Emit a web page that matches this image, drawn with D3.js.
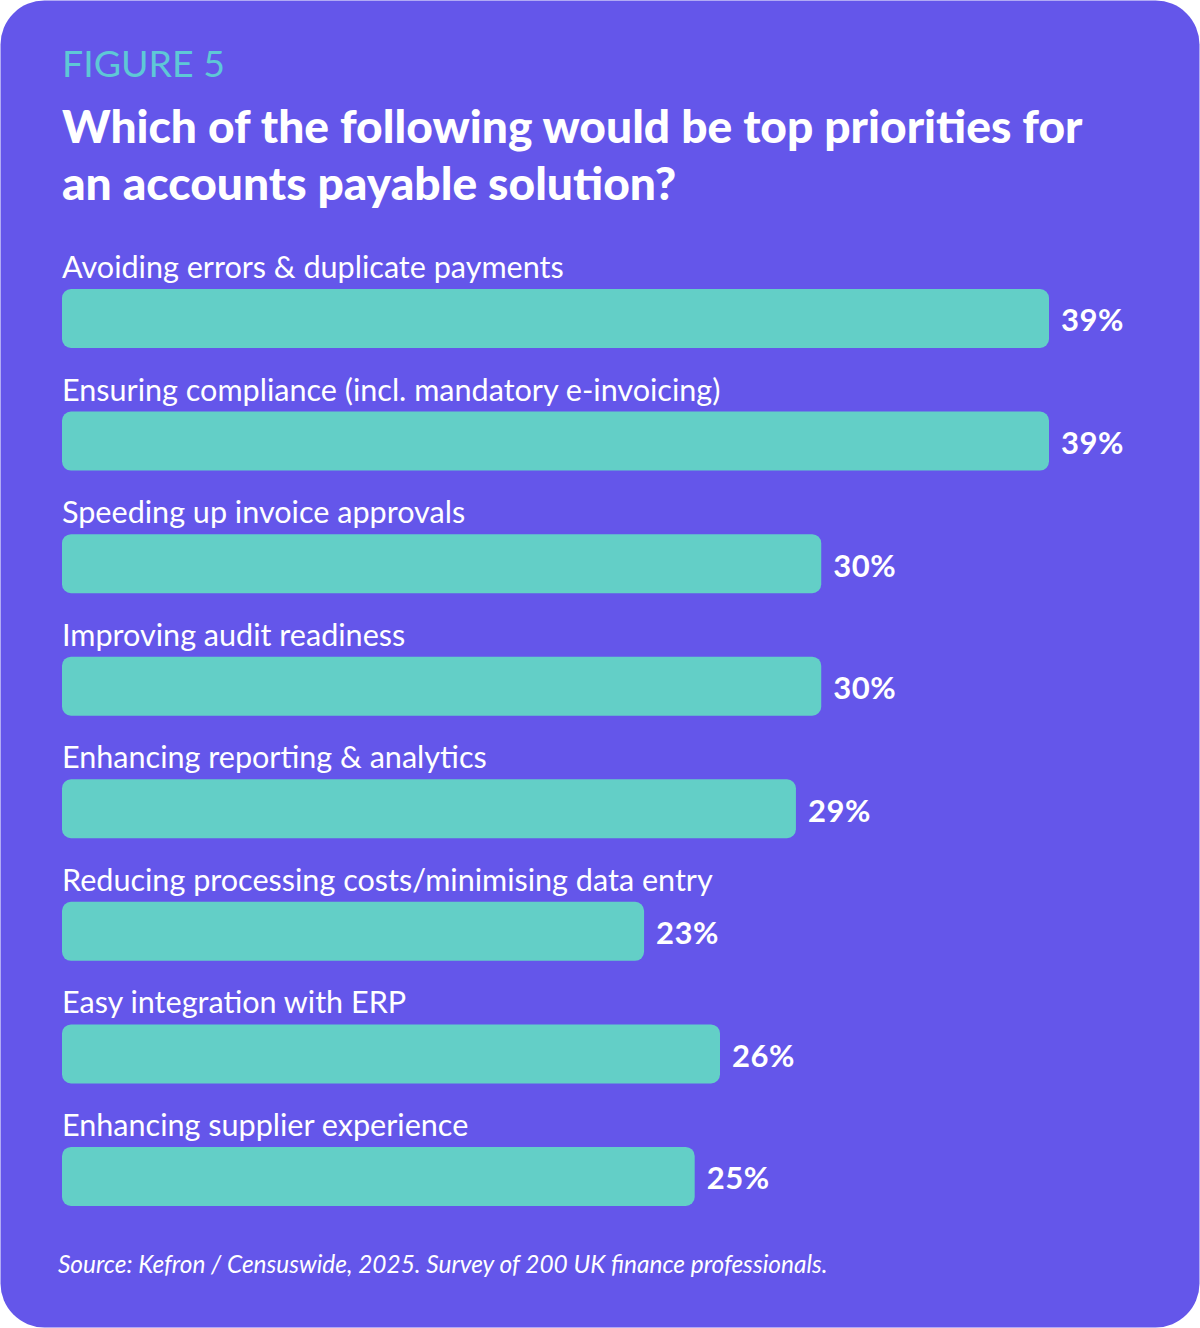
<!DOCTYPE html>
<html><head><meta charset="utf-8">
<script src="https://cdn.jsdelivr.net/npm/d3@7"></script>
<style>html,body{margin:0;padding:0;background:#fff;}svg{display:block;}</style>
</head><body>
<svg id="c" width="1200" height="1328"></svg>
<script>
const categories = [
  "Avoiding errors & duplicate payments",
  "Ensuring compliance (incl. mandatory e-invoicing)",
  "Speeding up invoice approvals",
  "Improving audit readiness",
  "Enhancing reporting & analytics",
  "Reducing processing costs/minimising data entry",
  "Easy integration with ERP",
  "Enhancing supplier experience"
];
const values = [39, 39, 30, 30, 29, 23, 26, 25];
const valueLabels = ["39%", "39%", "30%", "30%", "29%", "23%", "26%", "25%"];
const figureLabel = "FIGURE 5";
const titleLines = ["Which of the following would be top priorities for", "an accounts payable solution?"];
const sourceText = "Source: Kefron / Censuswide, 2025. Survey of 200 UK finance professionals.";

const svg = d3.select("#c");
const W = 1200, H = 1328;
svg.append("rect").attr("x",0.5).attr("y",0.5).attr("width",W-1).attr("height",H-1)
  .attr("rx",44).attr("fill","#6456ea");

function fitText(sel, target){
  const n = sel.node();
  const len = n.getComputedTextLength();
  const fs = parseFloat(sel.attr("font-size"));
  sel.attr("font-size", fs*target/len);
}

const font = "Lato, 'Open Sans', sans-serif";
const fl = svg.append("text").attr("x",62).attr("y",77).attr("font-family",font)
  .attr("font-size",36).attr("font-weight",400).attr("fill","#5ec8d6").text(figureLabel);
fitText(fl, 163);

const t1 = svg.append("text").attr("x",62).attr("y",143).attr("font-family",font)
  .attr("font-size",42).attr("font-weight",900).attr("fill","#fff").text(titleLines[0]);
fitText(t1, 1021);
const tfs = t1.attr("font-size");
svg.append("text").attr("x",62).attr("y",200).attr("font-family",font)
  .attr("font-size",tfs).attr("font-weight",900).attr("fill","#fff").text(titleLines[1]);

const x = d3.scaleLinear().domain([0,39]).range([62,1049]);
const y = d3.scaleBand().domain(categories.map((d,i)=>i)).range([289, 1206+63.5]).paddingInner(0).paddingOuter(0);
const barH = 59;

const g = svg.append("g");
const rows = g.selectAll("g.row").data(values).join("g").attr("class","row");
rows.append("rect")
  .attr("x", x(0)).attr("y",(d,i)=>y(i))
  .attr("width", d=>x(d)-x(0)).attr("height", barH)
  .attr("rx",9).attr("fill","#63cfc7");
const cl = rows.append("text")
  .attr("x",62).attr("y",(d,i)=>y(i)-11)
  .attr("font-family",font).attr("font-size",28).attr("font-weight",400).attr("fill","#fff")
  .text((d,i)=>categories[i]);
const c0 = d3.select(cl.nodes()[0]);
const ratio = 502 / c0.node().getComputedTextLength();
cl.attr("font-size", 28*ratio);

rows.append("text")
  .attr("x", d=>x(d)+12).attr("y",(d,i)=>y(i)+barH/2+5)
  .attr("dominant-baseline","middle")
  .attr("font-family",font).attr("font-size",31).attr("font-weight",700).attr("fill","#fff")
  .attr("letter-spacing",0.5)
  .text((d,i)=>valueLabels[i]);

const src = svg.append("text").attr("x",58).attr("y",1273).attr("font-family",font)
  .attr("font-size",21).attr("font-style","italic").attr("font-weight",400).attr("fill","#fff").text(sourceText);
fitText(src, 770);
</script>
</body></html>
